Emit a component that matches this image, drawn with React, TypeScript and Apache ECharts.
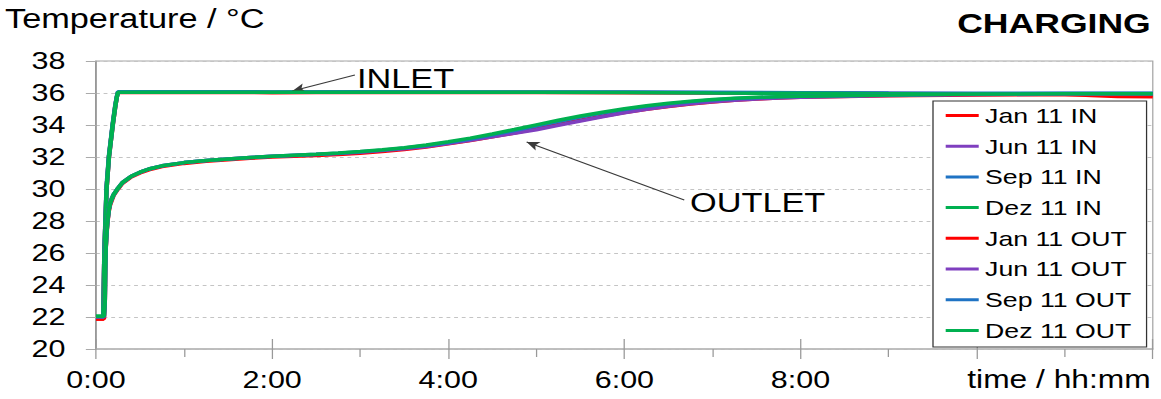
import React, { useEffect, useRef } from "react";
import * as echarts from "echarts";

// ---- data (time in hours, temperature in °C) ----
const legendNames = [
  "Jan 11 IN", "Jun 11 IN", "Sep 11 IN", "Dez 11 IN",
  "Jan 11 OUT", "Jun 11 OUT", "Sep 11 OUT", "Dez 11 OUT",
];
const seriesColors = [
  "#ff0000", "#7f3fbf", "#1f73c4", "#00b050",
  "#ff0000", "#7f3fbf", "#1f73c4", "#00b050",
];
const xTickLabels = ["0:00", "2:00", "4:00", "6:00", "8:00"];

// inlet curves
const inTimes = [0, 0.083, 0.095, 0.12, 0.147, 0.19, 0.22, 0.237, 0.25,
  1, 2, 3, 4, 5, 6, 7, 8, 9, 10, 11, 11.3, 11.6, 12];
const janIn = [21.88, 21.88, 26, 30, 32, 34, 35.2, 35.75, 36.03,
  36.04, 36.02, 36.04, 36.03, 36.03, 36.02, 36.0, 35.98, 35.96, 35.94, 35.92, 35.85, 35.78, 35.76];
const junIn = [22.0, 22.0, 26, 30, 32, 34, 35.2, 35.75, 36.05,
  36.06, 36.05, 36.06, 36.05, 36.05, 36.04, 36.02, 36.0, 35.98, 35.96, 35.95, 35.95, 35.94, 35.94];
const sepIn = [22.02, 22.02, 26.2, 30.2, 32.1, 34.1, 35.3, 35.8, 36.08,
  36.08, 36.07, 36.08, 36.07, 36.06, 36.06, 36.04, 36.02, 36.0, 35.99, 35.98, 35.98, 35.98, 35.98];
const dezIn = [22.05, 22.05, 26, 30, 32, 34, 35.2, 35.75, 36.05,
  36.05, 36.05, 36.05, 36.04, 36.04, 36.03, 36.0, 35.98, 35.96, 35.94, 35.93, 35.93, 35.92, 35.92];

// outlet curves
const outTimes = [0, 0.09, 0.1, 0.105, 0.11, 0.12, 0.13, 0.145, 0.16, 0.18, 0.2, 0.25, 0.3, 0.4, 0.5,
  0.6, 0.75, 1.0, 1.25, 1.5, 1.75,
  2.0, 2.25, 2.5, 2.75, 3.0, 3.25, 3.5, 3.75, 4.0, 4.25, 4.5, 4.75, 5.0, 5.25, 5.5, 5.75,
  6.0, 6.25, 6.5, 6.75, 7.0, 7.25, 7.5, 7.75, 8.0, 9, 10, 11, 12];
const janOut = [21.88, 21.88, 22.9, 24.9, 26.2, 27.2, 27.9, 28.6, 29.0, 29.3, 29.6, 30.0, 30.35, 30.75, 31.0,
  31.2, 31.4, 31.6, 31.73, 31.83, 31.92,
  32.0, 32.05, 32.1, 32.16, 32.24, 32.34, 32.47, 32.63, 32.82, 33.03, 33.26, 33.5, 33.76, 34.03, 34.3, 34.55,
  34.78, 34.98, 35.16, 35.31, 35.44, 35.54, 35.62, 35.68, 35.73, 35.83, 35.88, 35.9, 35.88];
const junOut = [22.0, 22.0, 23, 25, 26.3, 27.3, 28, 28.7, 29.1, 29.4, 29.65, 30.05, 30.4, 30.8, 31.05,
  31.25, 31.45, 31.65, 31.78, 31.88, 31.97,
  32.05, 32.1, 32.15, 32.22, 32.3, 32.4, 32.52, 32.66, 32.84, 33.04, 33.27, 33.48, 33.7, 33.98, 34.25, 34.52,
  34.77, 34.98, 35.17, 35.32, 35.45, 35.55, 35.63, 35.69, 35.74, 35.84, 35.9, 35.93, 35.94];
const sepOut = [22.02, 22.02, 23, 25, 26.3, 27.3, 28, 28.7, 29.1, 29.4, 29.65, 30.05, 30.4, 30.8, 31.05,
  31.25, 31.45, 31.65, 31.78, 31.88, 31.97,
  32.05, 32.11, 32.17, 32.24, 32.33, 32.43, 32.56, 32.72, 32.91, 33.13, 33.38, 33.65, 33.93, 34.22, 34.49, 34.74,
  34.97, 35.16, 35.32, 35.46, 35.57, 35.65, 35.71, 35.76, 35.8, 35.88, 35.94, 35.97, 35.97];
const dezOut = [22.05, 22.05, 23, 25, 26.3, 27.3, 28, 28.7, 29.1, 29.4, 29.65, 30.05, 30.4, 30.8, 31.05,
  31.25, 31.45, 31.65, 31.78, 31.88, 31.97,
  32.05, 32.11, 32.17, 32.25, 32.34, 32.45, 32.58, 32.75, 32.95, 33.18, 33.44, 33.72, 34.01, 34.3, 34.56, 34.8,
  35.02, 35.2, 35.36, 35.49, 35.59, 35.67, 35.73, 35.77, 35.8, 35.88, 35.93, 35.95, 35.95];

const seriesValues = [janIn, junIn, sepIn, dezIn, janOut, junOut, sepOut, dezOut];
const seriesTimes = [inTimes, inTimes, inTimes, inTimes, outTimes, outTimes, outTimes, outTimes];

// annotation arrows (from text to curve), in data coordinates
const inletArrow = [[2.94, 37.13], [2.23, 36.13]];
const outletArrow = [[6.68, 29.31], [4.89, 32.94]];

// the reference is horizontally stretched
const STRETCH = 1.27;
const W = 1161 / STRETCH;
const H = 399;
const FONT = "'Liberation Sans', Arial, Helvetica, sans-serif";

export default function App() {
  const ref = useRef<HTMLDivElement>(null);
  useEffect(() => {
    if (!ref.current) return;
    const chart = echarts.init(ref.current, null, { renderer: "svg" });
    const series: any[] = seriesValues.map((vals, i) => ({
      name: legendNames[i],
      type: "line",
      data: vals.map((v, j) => [seriesTimes[i][j], v]),
      showSymbol: false,
      smooth: false,
      color: seriesColors[i],
      lineStyle: { width: 3.5, color: seriesColors[i] },
      z: 2 + i,
    }));
    series[7].markLine = {
      silent: true,
      animation: false,
      symbol: ["none", "arrow"],
      symbolSize: [7, 10],
      label: { show: false },
      lineStyle: { color: "#3a3a3a", width: 1, type: "solid" },
      data: [
        [{ coord: inletArrow[0] }, { coord: inletArrow[1] }],
        [{ coord: outletArrow[0] }, { coord: outletArrow[1] }],
      ],
    };
    chart.setOption({
      animation: false,
      textStyle: { fontFamily: FONT },
      grid: {
        left: 96 / STRETCH,
        right: W - 1153 / STRETCH,
        top: 61,
        bottom: 50,
        show: true,
        borderColor: "#a6a6a6",
        borderWidth: 1,
      },
      legend: {
        orient: "vertical",
        left: 933 / STRETCH,
        top: 101,
        data: legendNames,
        icon: "rect",
        itemWidth: 26,
        itemHeight: 3,
        itemGap: 9.7,
        padding: [4, 12, 6, 10],
        borderColor: "#333",
        borderWidth: 1,
        backgroundColor: "#fff",
        borderRadius: 0,
        textStyle: { fontSize: 21, color: "#000", fontFamily: FONT, lineHeight: 21 },
      },
      xAxis: [
        {
          type: "value",
          min: 0,
          max: 12,
          interval: 2,
          axisLine: { show: true, lineStyle: { color: "#b8b8b8", width: 1.5 } },
          axisTick: { show: true, length: 10, lineStyle: { color: "#999" } },
          minorTick: { show: true, splitNumber: 2, length: 8, lineStyle: { color: "#999" } },
          splitLine: { show: false },
          axisLabel: {
            fontSize: 24,
            color: "#000",
            margin: 19,
            fontFamily: FONT,
            formatter: (v: number) => (v <= 8 ? xTickLabels[v / 2] : ""),
          },
        },
        {
          type: "value",
          min: 0,
          max: 12,
          interval: 2,
          position: "bottom",
          axisLine: { show: false },
          axisTick: { show: true, inside: true, length: 10, lineStyle: { color: "#999" } },
          splitLine: { show: false },
          axisLabel: { show: false },
        },
      ],
      yAxis: {
        type: "value",
        min: 20,
        max: 38,
        interval: 2,
        axisLine: { show: true, lineStyle: { color: "#888", width: 1 } },
        axisTick: { show: true, length: 8, lineStyle: { color: "#aaa" } },
        splitLine: { show: true, lineStyle: { color: "#c4c4c4", type: [3, 3], width: 1 } },
        axisLabel: { fontSize: 24, color: "#000", margin: 24, fontFamily: FONT },
      },
      graphic: [
        {
          type: "text",
          left: 5 / STRETCH,
          top: 5,
          style: { text: "Temperature / °C", fontSize: 27, fill: "#000", fontFamily: FONT },
        },
        {
          type: "text",
          right: W - 1151 / STRETCH,
          top: 9,
          style: { text: "CHARGING", fontSize: 28, fontWeight: "bold", fill: "#000", fontFamily: FONT },
        },
        {
          type: "text",
          left: 357 / STRETCH,
          top: 65,
          style: { text: "INLET", fontSize: 27, fill: "#000", fontFamily: FONT },
        },
        {
          type: "text",
          left: 690 / STRETCH,
          top: 189,
          style: { text: "OUTLET", fontSize: 27, fill: "#000", fontFamily: FONT },
        },
        {
          type: "text",
          right: W - 1151 / STRETCH,
          top: 367,
          style: { text: "time / hh:mm", fontSize: 25, fill: "#000", fontFamily: FONT },
        },
      ],
      series,
    });
    return () => chart.dispose();
  }, []);
  return (
    <div
      ref={ref}
      style={{
        position: "fixed",
        left: 0,
        top: 0,
        width: W + "px",
        height: H + "px",
        transform: `scaleX(${STRETCH})`,
        transformOrigin: "0 0",
        background: "#fff",
      }}
    />
  );
}
